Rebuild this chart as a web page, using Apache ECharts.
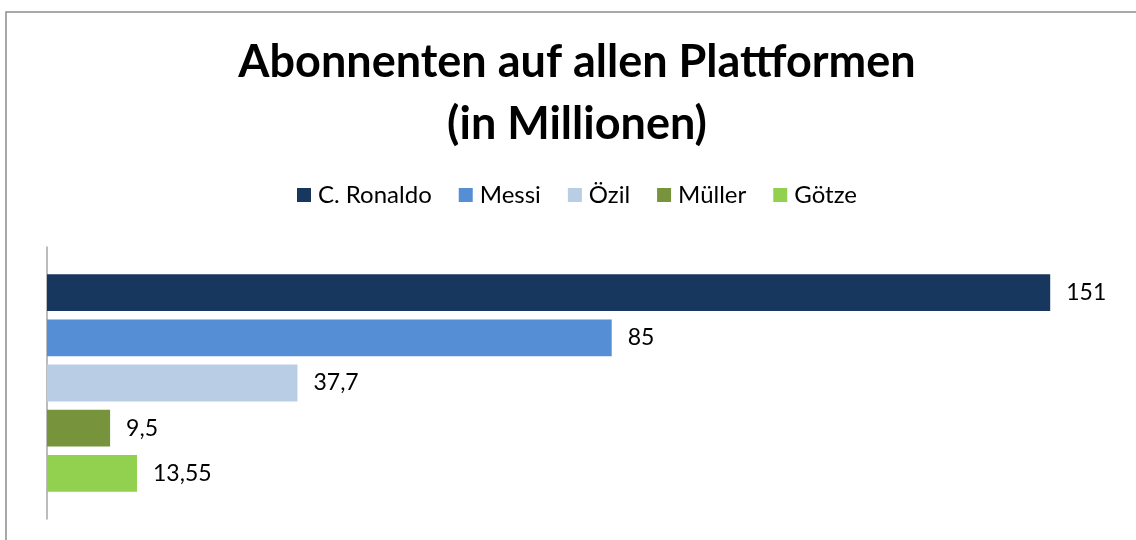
<!DOCTYPE html>
<html>
<head>
<meta charset="utf-8">
<style>
  html, body { margin: 0; padding: 0; background: #fff; }
  #chart { width: 1136px; height: 540px; }
</style>
<script src="https://cdn.jsdelivr.net/npm/echarts@6/dist/echarts.min.js"></script>
</head>
<body>
<div id="chart"></div>
<script>
// Follower totals per player across all platforms (millions)
const players = ['C. Ronaldo', 'Messi', 'Özil', 'Müller', 'Götze'];
const followers = [151, 85, 37.7, 9.5, 13.55];
const colors = ['#17375E', '#558ED5', '#B9CDE5', '#77933C', '#92D050'];
const categories = ['Abonnenten'];

const fontFamily = 'Lato, "Open Sans", sans-serif';

const chart = echarts.init(document.getElementById('chart'));

const series = players.map((name, i) => ({
  name: name,
  type: 'bar',
  data: [followers[i]],
  itemStyle: { color: colors[i] },
  barGap: '23%',
  barCategoryGap: '20%',
  label: {
    show: true,
    position: 'right',
    distance: 16,
    color: '#000',
    fontFamily: fontFamily,
    fontSize: 23,
    formatter: p => String(p.value).replace('.', ',')
  }
}));

chart.setOption({
  animation: false,
  backgroundColor: '#fff',
  title: {
    text: 'Abonnenten auf allen Plattformen\n(in Millionen)',
    left: 572,
    textAlign: 'center',
    top: 26,
    textStyle: {
      fontFamily: fontFamily,
      fontWeight: 'bold',
      fontSize: 45,
      lineHeight: 62,
      color: '#000'
    }
  },
  legend: {
    data: players,
    top: 178,
    left: 292,
    icon: 'rect',
    itemWidth: 14,
    itemHeight: 14,
    itemGap: 27,
    textStyle: { fontFamily: fontFamily, fontSize: 24, color: '#000', padding: [0, 0, 0, 2] }
  },
  graphic: [{
    type: 'rect',
    shape: { x: 6, y: 12, width: 1300, height: 700 },
    style: { fill: 'none', stroke: '#8c8c8c', lineWidth: 1.5 },
    silent: true,
    z: 100
  }],
  grid: { left: 47, top: 247, bottom: 21, width: 1063, containLabel: false },
  xAxis: {
    type: 'value',
    min: 0,
    max: 160,
    show: false
  },
  yAxis: {
    type: 'category',
    data: categories,
    axisLine: { show: true, lineStyle: { color: '#a6a6a6', width: 1.5 } },
    axisTick: { show: false },
    axisLabel: { show: false }
  },
  series: series
});
</script>
</body>
</html>
